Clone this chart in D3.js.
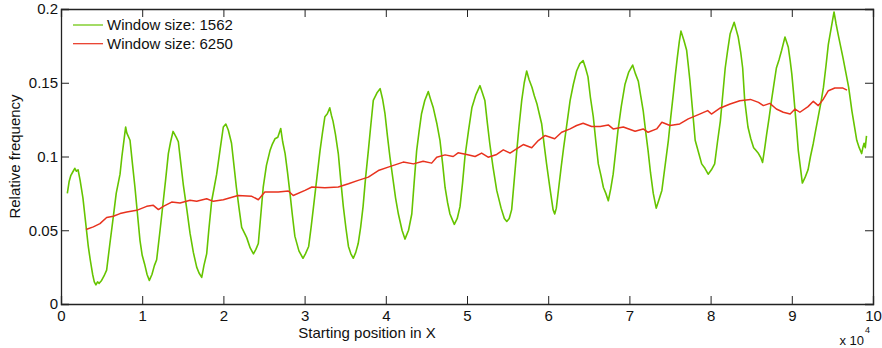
<!DOCTYPE html>
<html><head><meta charset="utf-8">
<script src="https://cdn.jsdelivr.net/npm/d3@7"></script>
<style>body{margin:0;background:#fff;} svg{display:block;font-family:"Liberation Sans",Arial,Helvetica,sans-serif;}</style>
</head><body>
<svg id="c" width="882" height="348"></svg>
<script>
// ---- data (positions in units of 10^4) ----
const xTicks = [0,1,2,3,4,5,6,7,8,9,10];
const yTicks = [0,0.05,0.1,0.15,0.2];
const yTickLabels = ["0","0.05","0.1","0.15","0.2"];
const seriesNames = ["Window size: 1562","Window size: 6250"];

const greenPos = [0.078,0.10,0.12,0.15,0.17,0.19,0.21,0.235,0.27,0.296,0.32,0.336,0.36,0.39,0.41,0.43,0.45,0.47,0.50,0.53,0.562,0.60,0.644,0.68,0.727,0.75,0.78,0.796,0.81,0.85,0.88,0.911,0.94,0.973,1.00,1.03,1.06,1.088,1.12,1.15,1.178,1.22,1.26,1.29,1.322,1.35,1.38,1.40,1.42,1.445,1.47,1.506,1.55,1.589,1.63,1.671,1.70,1.733,1.76,1.794,1.82,1.856,1.89,1.917,1.96,1.999,2.03,2.06,2.10,2.13,2.16,2.19,2.225,2.26,2.287,2.33,2.37,2.40,2.43,2.46,2.49,2.53,2.574,2.60,2.635,2.67,2.706,2.73,2.76,2.79,2.82,2.85,2.88,2.93,2.98,3.01,3.05,3.08,3.11,3.15,3.19,3.22,3.25,3.28,3.31,3.33,3.35,3.38,3.415,3.445,3.477,3.51,3.54,3.57,3.60,3.63,3.66,3.69,3.72,3.75,3.785,3.815,3.846,3.89,3.93,3.96,3.99,4.02,4.05,4.09,4.12,4.155,4.20,4.236,4.28,4.32,4.35,4.38,4.41,4.44,4.48,4.523,4.55,4.585,4.63,4.667,4.70,4.73,4.76,4.79,4.82,4.844,4.88,4.914,4.945,4.975,5.02,5.06,5.11,5.16,5.19,5.22,5.25,5.28,5.32,5.366,5.42,5.46,5.49,5.52,5.55,5.58,5.61,5.64,5.674,5.705,5.735,5.765,5.80,5.83,5.86,5.89,5.92,5.95,5.98,6.02,6.06,6.08,6.10,6.13,6.16,6.19,6.23,6.27,6.31,6.35,6.39,6.43,6.46,6.49,6.52,6.555,6.585,6.617,6.65,6.68,6.71,6.74,6.77,6.80,6.83,6.86,6.90,6.946,6.99,7.04,7.075,7.11,7.14,7.17,7.20,7.23,7.26,7.294,7.33,7.36,7.40,7.44,7.48,7.51,7.54,7.565,7.59,7.615,7.635,7.67,7.705,7.725,7.746,7.78,7.81,7.85,7.89,7.93,7.97,8.01,8.05,8.085,8.12,8.15,8.18,8.21,8.24,8.29,8.315,8.34,8.37,8.395,8.42,8.46,8.495,8.53,8.56,8.59,8.62,8.64,8.665,8.69,8.72,8.75,8.78,8.81,8.845,8.875,8.916,8.957,8.98,9.00,9.02,9.04,9.06,9.08,9.105,9.13,9.165,9.20,9.23,9.265,9.295,9.326,9.36,9.39,9.42,9.45,9.485,9.52,9.545,9.57,9.60,9.63,9.665,9.70,9.72,9.74,9.77,9.80,9.83,9.86,9.875,9.89,9.905,9.92];
const greenFreq = [0.075,0.083,0.087,0.090,0.092,0.090,0.091,0.084,0.072,0.059,0.047,0.039,0.030,0.020,0.015,0.013,0.015,0.014,0.016,0.019,0.023,0.040,0.059,0.075,0.088,0.100,0.113,0.120,0.116,0.111,0.095,0.079,0.062,0.043,0.033,0.027,0.020,0.016,0.020,0.026,0.030,0.050,0.070,0.085,0.102,0.110,0.117,0.115,0.113,0.110,0.098,0.081,0.064,0.048,0.035,0.025,0.021,0.018,0.026,0.034,0.050,0.070,0.080,0.088,0.105,0.120,0.122,0.118,0.109,0.094,0.079,0.066,0.052,0.048,0.045,0.038,0.034,0.037,0.041,0.060,0.079,0.094,0.104,0.108,0.112,0.113,0.119,0.110,0.102,0.089,0.075,0.060,0.046,0.036,0.031,0.034,0.039,0.052,0.066,0.085,0.104,0.116,0.127,0.129,0.133,0.128,0.124,0.115,0.102,0.084,0.066,0.051,0.039,0.034,0.031,0.035,0.041,0.052,0.066,0.085,0.104,0.121,0.138,0.143,0.146,0.139,0.129,0.114,0.100,0.084,0.072,0.061,0.050,0.044,0.050,0.061,0.083,0.104,0.117,0.129,0.138,0.144,0.139,0.133,0.122,0.111,0.095,0.079,0.069,0.061,0.057,0.054,0.058,0.066,0.082,0.100,0.118,0.133,0.142,0.148,0.143,0.138,0.123,0.109,0.093,0.077,0.065,0.058,0.056,0.058,0.064,0.083,0.102,0.120,0.138,0.150,0.158,0.152,0.147,0.141,0.136,0.129,0.122,0.108,0.095,0.079,0.064,0.061,0.065,0.079,0.093,0.106,0.122,0.138,0.149,0.158,0.163,0.165,0.160,0.154,0.140,0.127,0.111,0.095,0.087,0.079,0.075,0.070,0.078,0.088,0.103,0.118,0.134,0.149,0.157,0.162,0.156,0.151,0.141,0.131,0.117,0.104,0.089,0.075,0.065,0.070,0.077,0.094,0.111,0.127,0.142,0.155,0.167,0.178,0.185,0.179,0.172,0.162,0.151,0.130,0.111,0.103,0.095,0.092,0.088,0.091,0.095,0.110,0.124,0.142,0.160,0.172,0.183,0.191,0.186,0.181,0.171,0.160,0.138,0.120,0.112,0.106,0.104,0.102,0.099,0.096,0.105,0.115,0.126,0.138,0.149,0.160,0.166,0.172,0.181,0.174,0.165,0.156,0.144,0.131,0.118,0.104,0.093,0.082,0.086,0.091,0.100,0.109,0.118,0.127,0.137,0.147,0.161,0.176,0.187,0.198,0.190,0.183,0.175,0.167,0.157,0.147,0.139,0.131,0.121,0.111,0.106,0.102,0.106,0.109,0.106,0.114];

const redPos = [0.308,0.398,0.48,0.562,0.644,0.727,0.81,0.932,1.055,1.137,1.20,1.26,1.363,1.466,1.589,1.671,1.794,1.876,1.999,2.18,2.35,2.43,2.51,2.676,2.80,2.86,3.005,3.09,3.25,3.415,3.54,3.66,3.785,3.908,4.03,4.215,4.34,4.46,4.565,4.627,4.73,4.83,4.89,4.996,5.1,5.18,5.26,5.366,5.447,5.53,5.61,5.693,5.797,5.878,5.96,6.08,6.166,6.27,6.35,6.43,6.535,6.64,6.74,6.80,6.925,7.07,7.17,7.23,7.336,7.40,7.50,7.62,7.725,7.85,7.964,8.01,8.12,8.24,8.36,8.49,8.59,8.65,8.73,8.81,8.895,8.98,9.04,9.10,9.20,9.265,9.326,9.39,9.45,9.53,9.63,9.68];
const redFreq = [0.0505,0.0523,0.0545,0.0586,0.0595,0.0613,0.0624,0.0635,0.0662,0.0669,0.0640,0.0662,0.0691,0.0685,0.0703,0.0696,0.0714,0.0696,0.0707,0.0736,0.0730,0.0707,0.0759,0.0759,0.0766,0.0736,0.0770,0.0793,0.0788,0.0793,0.0815,0.0838,0.0860,0.0905,0.0928,0.0962,0.0950,0.0968,0.0955,0.0995,0.1011,0.1000,0.1025,0.1014,0.1000,0.1023,0.0995,0.1014,0.1045,0.1023,0.1052,0.1081,0.1059,0.1108,0.1142,0.1120,0.1164,0.1187,0.1210,0.1225,0.1203,0.1203,0.1214,0.1187,0.1200,0.1171,0.1187,0.1164,0.1187,0.1232,0.1210,0.1221,0.1255,0.1284,0.1311,0.1288,0.1329,0.1356,0.1378,0.1387,0.1367,0.1345,0.1360,0.1322,0.1300,0.1288,0.1322,0.1300,0.1338,0.1374,0.1345,0.1390,0.1446,0.1464,0.1464,0.1450];

const colors = ["#66c400","#e8321e"];

// ---- layout ----
const L = 61, R = 873, T = 9, B = 304;
const svg = d3.select("#c");
const xs = d3.scaleLinear().domain([0,10]).range([L,R]);
const ys = d3.scaleLinear().domain([0,0.2]).range([B,T]);
const axisColor = "#222";
const fs = 15;

// lines
const lineGen = d3.line().x(d=>xs(d[0])).y(d=>ys(d[1]));
const gData = greenPos.map((p,i)=>[p,greenFreq[i]]);
const rData = redPos.map((p,i)=>[p,redFreq[i]]);
svg.append("path").attr("d",lineGen(gData)).attr("fill","none").attr("stroke",colors[0]).attr("stroke-width",1.6).attr("stroke-linejoin","round");
svg.append("path").attr("d",lineGen(rData)).attr("fill","none").attr("stroke",colors[1]).attr("stroke-width",1.5).attr("stroke-linejoin","round");

// axes (ticks inward)
const tl = 8;
const gBottom = svg.append("g").attr("transform",`translate(0,${B})`)
  .call(d3.axisBottom(xs).tickValues(xTicks).tickSize(-tl).tickPadding(6).tickFormat(d3.format("d")));
const gTop = svg.append("g").attr("transform",`translate(0,${T})`)
  .call(d3.axisTop(xs).tickValues(xTicks).tickSize(-tl).tickFormat(""));
const gLeft = svg.append("g").attr("transform",`translate(${L},0)`)
  .call(d3.axisLeft(ys).tickValues(yTicks).tickSize(-tl).tickPadding(3).tickFormat((d,i)=>yTickLabels[i]));
const gRight = svg.append("g").attr("transform",`translate(${R},0)`)
  .call(d3.axisRight(ys).tickValues(yTicks).tickSize(-tl).tickFormat(""));
[gBottom,gTop,gLeft,gRight].forEach(g=>{
  g.select(".domain").attr("stroke",axisColor).attr("stroke-width",1.3);
  g.selectAll(".tick line").attr("stroke",axisColor).attr("stroke-width",1);
  g.selectAll(".tick text").attr("fill","#111").style("font-size",fs+"px").style("font-family","Liberation Sans, Arial, sans-serif");
});
gBottom.selectAll(".tick").filter(d=>d===0||d===10).select("line").remove();
gTop.selectAll(".tick").filter(d=>d===0||d===10).select("line").remove();
gLeft.selectAll(".tick").filter(d=>d===0||d===0.2).select("line").remove();
gRight.selectAll(".tick").filter(d=>d===0||d===0.2).select("line").remove();

// labels
svg.append("text").attr("x",367).attr("y",338).attr("text-anchor","middle")
  .style("font-size",fs+"px").attr("fill","#111").text("Starting position in X");
svg.append("text").attr("transform",`translate(20,${(T+B)/2}) rotate(-90)`).attr("text-anchor","middle")
  .style("font-size",fs+"px").attr("fill","#111").text("Relative frequency");
svg.append("text").attr("x",864).attr("y",345).attr("text-anchor","end").style("font-size","13px").attr("fill","#111").text("x 10");
svg.append("text").attr("x",865).attr("y",333).style("font-size","9px").attr("fill","#111").text("4");

// legend
seriesNames.forEach((nm,i)=>{
  const yy = 25 + i*18.7;
  svg.append("line").attr("x1",73).attr("x2",103).attr("y1",yy).attr("y2",yy).attr("stroke",colors[i]).attr("stroke-width",1.2);
  svg.append("text").attr("x",107).attr("y",yy).attr("dy","0.35em").style("font-size",fs+"px").attr("fill","#111").text(nm);
});
</script>
</body></html>
